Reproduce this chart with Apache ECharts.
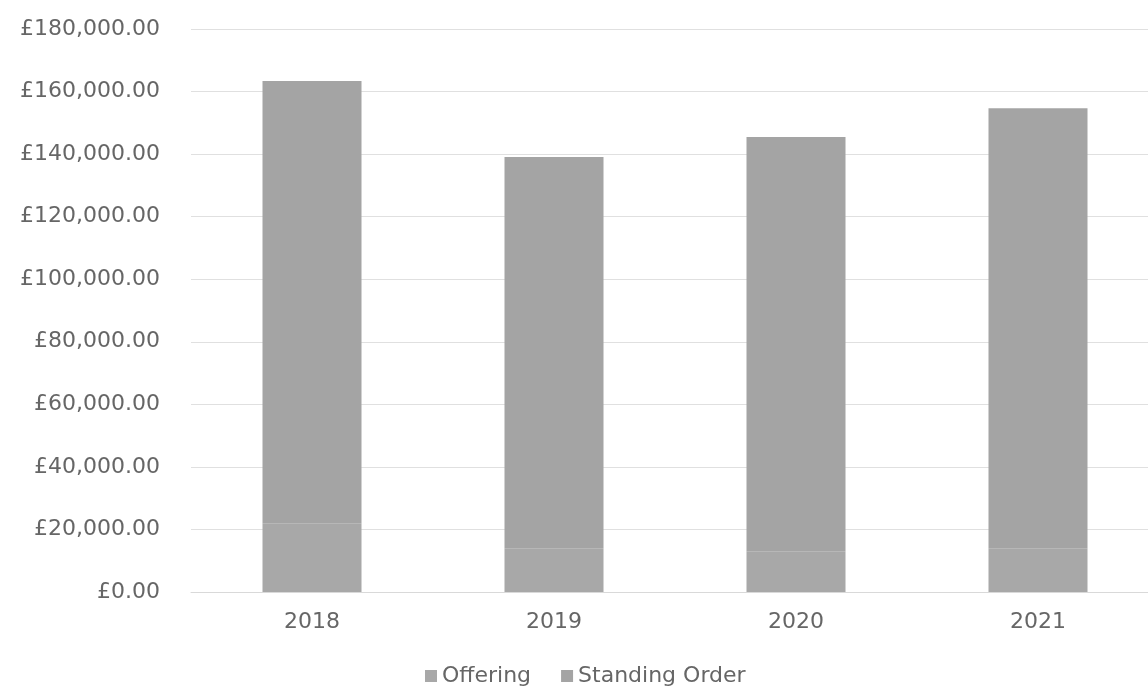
<!DOCTYPE html>
<html><head><meta charset="utf-8">
<script src="https://cdn.jsdelivr.net/npm/echarts@6/dist/echarts.min.js"></script>
<style>html,body{margin:0;padding:0;background:#fff}#c{width:1148px;height:688px}</style>
</head><body><div id="c"></div>
<script>
const categories = ['2018', '2019', '2020', '2021'];
const offering = [22000, 14000, 13000, 14000];
const standingOrder = [141400, 125100, 132500, 140700];
const yTicks = [0, 20000, 40000, 60000, 80000, 100000, 120000, 140000, 160000, 180000];

const fmt = v => '£' + v.toLocaleString('en-GB', {minimumFractionDigits: 2, maximumFractionDigits: 2});
const chart = echarts.init(document.getElementById('c'));
chart.setOption({
  animation: false,
  textStyle: {fontFamily: 'DejaVu Sans, sans-serif'},
  grid: {left: 191, width: 968, top: 29, bottom: 96, containLabel: false, outerBoundsMode: 'none'},
  legend: {
    data: ['Offering', 'Standing Order'],
    left: 420, top: 660, itemWidth: 12, itemHeight: 12, itemGap: 30,
    icon: 'rect',
    textStyle: {fontSize: 22, color: '#666666'}
  },
  xAxis: {
    type: 'category', data: categories,
    axisLine: {lineStyle: {color: '#d9d9d9'}},
    axisTick: {show: false},
    axisLabel: {fontSize: 22, color: '#666666', margin: 19}
  },
  yAxis: {
    type: 'value', min: yTicks[0], max: yTicks[yTicks.length - 1], interval: 20000,
    axisLine: {show: false}, axisTick: {show: false},
    splitLine: {lineStyle: {color: '#e0e0e0'}},
    axisLabel: {fontSize: 22, color: '#666666', margin: 31, formatter: fmt}
  },
  series: [
    {name: 'Offering', type: 'bar', stack: 's', data: offering, barWidth: 99, itemStyle: {color: '#a8a8a8'}},
    {name: 'Standing Order', type: 'bar', stack: 's', data: standingOrder, barWidth: 99, itemStyle: {color: '#a4a4a4'}}
  ]
});
</script></body></html>
